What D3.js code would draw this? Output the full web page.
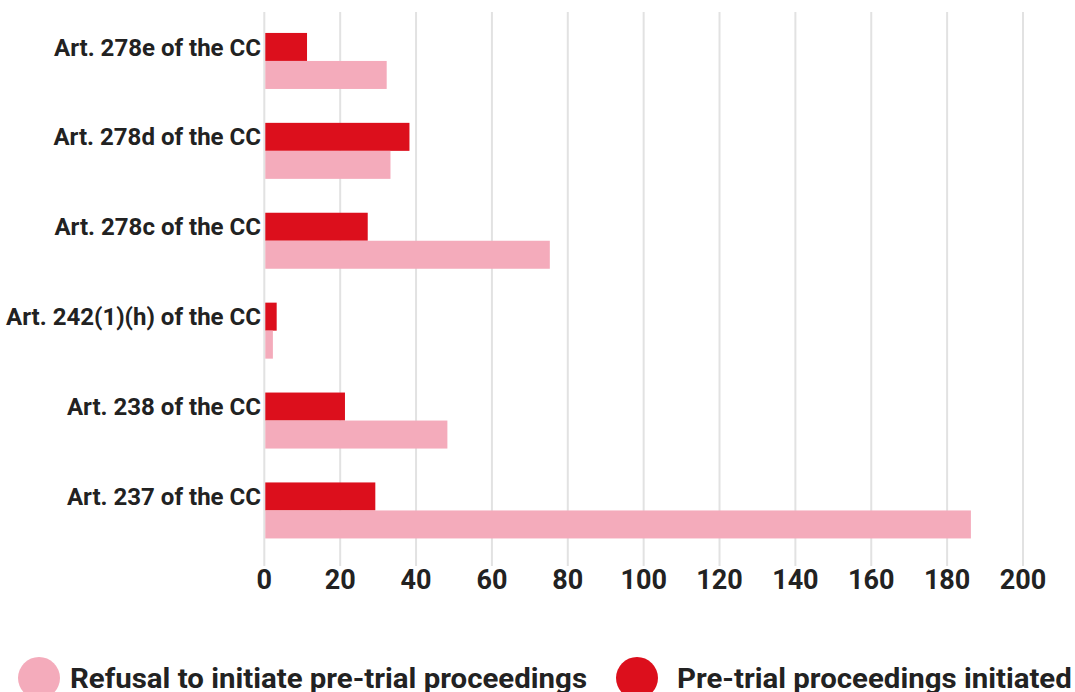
<!DOCTYPE html>
<html>
<head>
<meta charset="utf-8">
<script src="https://cdn.jsdelivr.net/npm/d3@7"></script>
<style>
  html, body { margin: 0; padding: 0; background: #fff; }
  svg { display: block; }
  text { font-family: "Roboto", "DejaVu Sans", sans-serif; font-weight: 700; fill: #222; }
</style>
</head>
<body>
<svg id="chart" width="1075" height="692"></svg>
<script>
const categories = ["Art. 278e of the CC", "Art. 278d of the CC", "Art. 278c of the CC", "Art. 242(1)(h) of the CC", "Art. 238 of the CC", "Art. 237 of the CC"];
const seriesNames = ["Pre-trial proceedings initiated", "Refusal to initiate pre-trial proceedings"];
const initiated = [11, 38, 27, 3, 21, 29];
const refusal = [32, 33, 75, 2, 48, 186];
const tickValues = [0, 20, 40, 60, 80, 100, 120, 140, 160, 180, 200];
const legendOrder = ["Refusal to initiate pre-trial proceedings", "Pre-trial proceedings initiated"];

const colors = { "Pre-trial proceedings initiated": "#dc0f1c", "Refusal to initiate pre-trial proceedings": "#f4abbb" };

const svg = d3.select("#chart");

const x = d3.scaleLinear().domain([0, 200]).range([264.3, 1023]);
const y = d3.scaleBand().domain(categories).range([16, 555.4]).paddingInner(0.377).paddingOuter(0.1885);
const ySub = d3.scaleBand().domain(seriesNames).range([0, y.bandwidth()]);

const rows = categories.map((c, i) => ({ cat: c, values: [
  { key: seriesNames[0], value: initiated[i] },
  { key: seriesNames[1], value: refusal[i] }
]}));

// gridlines
svg.append("g").selectAll("line").data(tickValues).join("line")
  .attr("x1", d => x(d)).attr("x2", d => x(d))
  .attr("y1", 12).attr("y2", 566)
  .attr("stroke", "#e2e2e2").attr("stroke-width", 2);

// bars
const groups = svg.append("g").selectAll("g").data(rows).join("g")
  .attr("transform", d => `translate(0,${y(d.cat)})`);
groups.selectAll("rect").data(d => d.values).join("rect")
  .attr("x", x(0) + 1)
  .attr("y", d => ySub(d.key))
  .attr("width", d => x(d.value) - x(0))
  .attr("height", ySub.bandwidth())
  .attr("fill", d => colors[d.key]);

// helper to horizontally fit text
function fit(sel, factor) {
  sel.each(function() {
    const len = this.getComputedTextLength();
    d3.select(this).attr("textLength", len * factor).attr("lengthAdjust", "spacingAndGlyphs");
  });
}

// category labels
const labels = svg.append("g").selectAll("text").data(categories).join("text")
  .attr("x", 261)
  .attr("y", d => y(d) + ySub(seriesNames[0]) + ySub.bandwidth() / 2)
  .attr("dy", "0.36em")
  .attr("text-anchor", "end")
  .style("font-size", "24px")
  .text(d => d);
{
  const first = labels.nodes()[0].getComputedTextLength();
  fit(labels, 207 / first);
}

// x axis tick labels
svg.append("g").selectAll("text").data(tickValues).join("text")
  .attr("x", d => x(d))
  .attr("y", 589)
  .attr("text-anchor", "middle")
  .style("font-size", "27px")
  .text(d => d3.format("d")(d));

// legend
const legendPos = [{ cx: 39, tx: 70 }, { cx: 637, tx: 677 }];
const lg = svg.append("g").selectAll("g").data(legendOrder).join("g");
lg.append("circle")
  .attr("cx", (d, i) => legendPos[i].cx).attr("cy", 678).attr("r", 21)
  .attr("fill", d => colors[d]);
const lt = lg.append("text")
  .attr("x", (d, i) => legendPos[i].tx).attr("y", 688)
  .style("font-size", "27px")
  .text(d => d);
{
  const w0 = lt.nodes()[0].getComputedTextLength();
  fit(lt, 517 / w0);
}
</script>
</body>
</html>
